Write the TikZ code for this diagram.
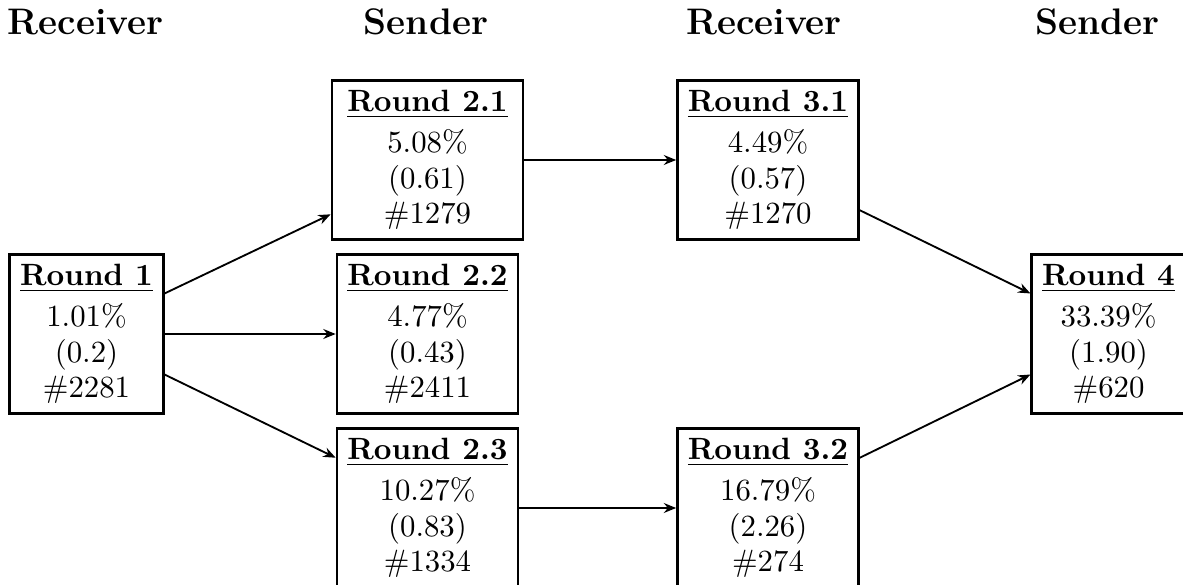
\documentclass[tikz,border=0pt]{standalone}
\usetikzlibrary{arrows.meta,calc}
\begin{document}
\begin{tikzpicture}[x=0.3247pt,y=-0.3247pt,
  box/.style={draw,line width=0.9pt,align=center,inner sep=3.33pt,
    font=\fontsize{10}{11.5}\selectfont},
  head/.style={font=\large\bfseries,anchor=base},
  link/.style={line width=0.6pt,-{Stealth[length=4pt,width=3.2pt]}}]
\useasboundingbox (0,0) rectangle (1183,585);

% column headings
\node[head] (h1) at (85.5,35) {Receiver};
\node[head] (h2) at (426,35) {Sender};
\node[head] (h3) at (764,35) {Receiver};
\node[head] (h4) at (1097.5,35) {Sender};

% rounds
\newcommand\rtitle[1]{\underline{\textbf{Round #1}}\\[1.7pt]}
\node[box] (r1) at (86.5,334) {\rtitle{1}1.01\%\\(0.2)\\\#2281};
\node[box,minimum width=62pt] (r21) at (427.5,160) {\rtitle{2.1}5.08\%\\(0.61)\\\#1279};
\node[box] (r22) at (427.5,334) {\rtitle{2.2}4.77\%\\(0.43)\\\#2411};
\node[box] (r23) at (427.5,508) {\rtitle{2.3}10.27\%\\(0.83)\\\#1334};
\node[box] (r31) at (768,160) {\rtitle{3.1}4.49\%\\(0.57)\\\#1270};
\node[box] (r32) at (768,508) {\rtitle{3.2}16.79\%\\(2.26)\\\#274};
\node[box] (r4) at (1108.5,334) {\rtitle{4}33.39\%\\(1.90)\\\#620};

% transitions
\draw[link] ($(r1.east)!0.5!(r1.north east)$) -- ($(r21.west)!0.67!(r21.south west)$);
\draw[link] (r1.east) -- (r22.west);
\draw[link] ($(r1.east)!0.5!(r1.south east)$) -- ($(r23.west)!0.62!(r23.north west)$);
\draw[link] (r21.east) -- (r31.west);
\draw[link] (r23.east) -- (r32.west);
\draw[link] ($(r31.east)!0.62!(r31.south east)$) -- ($(r4.west)!0.5!(r4.north west)$);
\draw[link] ($(r32.east)!0.62!(r32.north east)$) -- ($(r4.west)!0.5!(r4.south west)$);
\end{tikzpicture}
\end{document}
